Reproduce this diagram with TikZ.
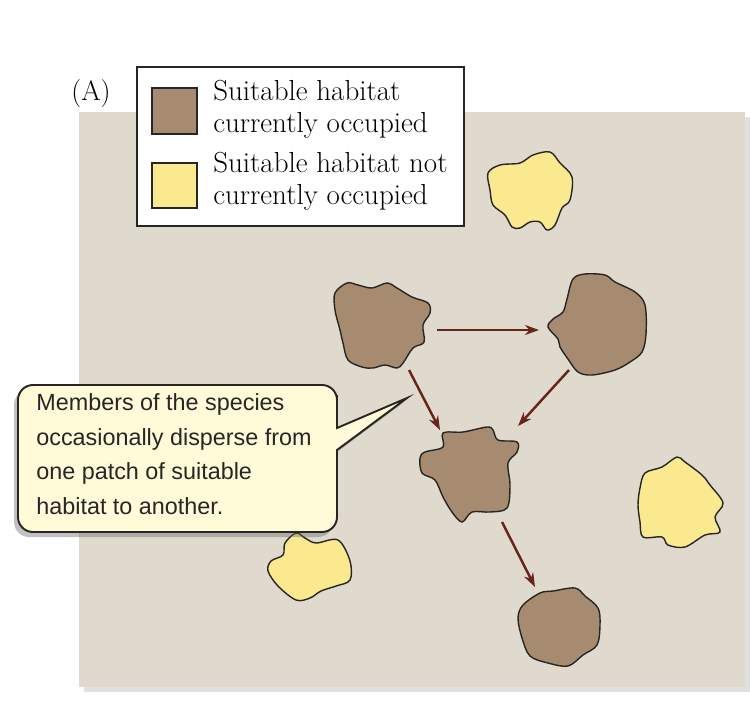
\documentclass[tikz,border=0pt]{standalone}
\usepackage{fontspec}
\newfontfamily\calloutfont{Liberation Sans}
\usetikzlibrary{arrows.meta}

\definecolor{panelgray}{RGB}{224,218,206}
\definecolor{patchbrown}{RGB}{166,139,113}
\definecolor{patchyellow}{RGB}{250,233,142}
\definecolor{arrowbrown}{RGB}{105,36,26}
\definecolor{outline}{RGB}{40,38,35}
\definecolor{calloutfill}{RGB}{255,251,217}

\tikzset{
  occupied/.style={fill=patchbrown, draw=outline, line width=0.8pt},
  vacant/.style={fill=patchyellow, draw=outline, line width=0.8pt},
  disperse/.style={arrowbrown, line width=1.4pt, -{Stealth[length=0.28cm,width=0.2cm]}},
  legendtext/.style={anchor=west, align=left, inner sep=0pt, font=\fontsize{16.5}{18.2}\selectfont},
}

\begin{document}
\begin{tikzpicture}[x=0.02cm, y=-0.02cm]
    \useasboundingbox (0,0) rectangle (750,708);
    \fill[white] (0,0) rectangle (750,708);
    %panel
    \fill[black!30, opacity=0.4] (84,117) rectangle (750,692);
    \fill[panelgray] (79,112) rectangle (745,687);
    %legend
    \node[font=\fontsize{16}{18}\selectfont] (A) at (91,93) {(A)};
    \draw[fill=white, line width=0.8pt, draw=outline] (137,67) rectangle (464,226);
    \draw[occupied, line width=0.6pt] (152,88) rectangle (197,134);
    \draw[vacant, line width=0.6pt] (152,163) rectangle (197,208);
    \node[legendtext] (legocc) at (213,109) {Suitable habitat\\currently occupied};
    \node[legendtext] (legvac) at (213,181) {Suitable habitat not\\currently occupied};
    %unoccupied patches
    \draw[vacant] plot[smooth cycle, tension=0.55] coordinates {(488,173) (500,165) (520,163) (533,155) (550,152) (560,163) (572,177) (570,200) (562,208) (555,225) (547,230) (540,222) (530,222) (520,228) (512,227) (505,215) (493,205) (490,190)};
    \draw[vacant] plot[smooth cycle, tension=0.55] coordinates {(645,473) (662,467) (677,457) (685,462) (702,475) (710,485) (723,503) (715,517) (720,532) (705,535) (685,547) (668,545) (662,537) (643,537) (640,522) (638,505) (640,488)};
    \draw[vacant] plot[smooth cycle, tension=0.55] coordinates {(285,543) (296,533) (305,538) (316,543) (338,540) (350,561) (350,580) (336,586) (321,591) (310,598) (296,600) (278,586) (268,571) (271,561) (283,555)};
    %occupied patches
    \draw[occupied] plot[smooth cycle, tension=0.55] coordinates {(335,293) (347,283) (358,285) (372,288) (387,283) (397,288) (412,297) (428,303) (430,313) (423,325) (424,342) (413,348) (403,363) (397,368) (385,365) (373,368) (362,367) (348,360) (343,343) (340,330) (335,310)};
    \draw[occupied] plot[smooth cycle, tension=0.55] coordinates {(573,279) (585,274) (605,275) (615,282) (635,292) (645,305) (646,334) (642,352) (630,362) (615,370) (592,375) (578,372) (568,359) (560,347) (558,339) (548,327) (553,319) (563,312) (567,299)};
    \draw[occupied] plot[smooth cycle, tension=0.55] coordinates {(443,433) (463,432) (487,427) (493,430) (498,440) (517,442) (517,452) (508,463) (510,485) (507,508) (490,512) (472,512) (462,522) (452,512) (443,497) (435,480) (422,473) (420,458) (425,452) (443,447)};
    \draw[occupied] plot[smooth cycle, tension=0.55] coordinates {(523,605) (540,593) (553,591) (575,588) (585,596) (598,608) (600,625) (597,645) (583,655) (568,666) (548,663) (530,656) (522,638) (518,618)};
    %dispersal
    \coordinate (ab1) at (437,330);
    \coordinate (ab2) at (539,330);
    \coordinate (ac1) at (409,370);
    \coordinate (ac2) at (440,430);
    \coordinate (bc1) at (569,370);
    \coordinate (bc2) at (518,426);
    \coordinate (cd1) at (502,522);
    \coordinate (cd2) at (535,587);
    \draw[disperse] (ab1) -- (ab2);
    \draw[disperse] (ac1) -- (ac2);
    \draw[disperse] (bc1) -- (bc2);
    \draw[disperse] (cd1) -- (cd2);
    %callout
    \coordinate (tip) at (407,398);
    \fill[black!60, opacity=0.4] (14,466) [rounded corners=0.3cm] -- (14,390) -- (333,390) -- (333,415) [sharp corners] -- (333,433) -- (403,403) -- (333,455) -- (333,470) [rounded corners=0.3cm] -- (333,537) -- (14,537) -- cycle;
    \draw[fill=calloutfill, draw=outline, line width=1.1pt] (18,460) [rounded corners=0.3cm] -- (18,385) -- (337,385) -- (337,410) [sharp corners] -- (337,428) -- (tip) -- (337,450) -- (337,465) [rounded corners=0.3cm] -- (337,532) -- (18,532) -- cycle;
    \node[anchor=north west, align=left, inner sep=0pt, text=black!85, font=\calloutfont\fontsize{13.3}{19.8}\selectfont] (note) at (36,393)
        {Members of the species\\occasionally disperse from\\one patch of suitable\\habitat to another.};
\end{tikzpicture}
\end{document}
